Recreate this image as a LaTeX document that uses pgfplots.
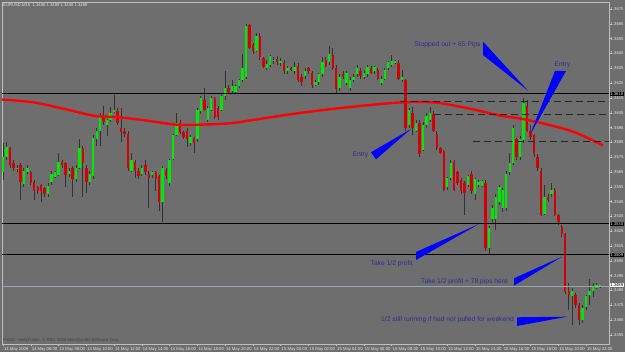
\documentclass[border=0pt]{standalone}
\usepackage{pgfplots}
\pgfplotsset{compat=1.18}
\usepackage{pgfplotstable}
\usepackage{fontspec}
\setmainfont{Liberation Sans}
\definecolor{bg}{RGB}{110,110,110}
\definecolor{framecol}{RGB}{190,190,190}
\definecolor{bullc}{RGB}{0,232,0}
\definecolor{bearc}{RGB}{210,0,0}
\definecolor{wick}{RGB}{50,50,50}
\definecolor{note}{RGB}{45,45,150}
\definecolor{lbl}{RGB}{228,228,228}
\definecolor{bidline}{RGB}{150,165,180}
\newcommand{\tinyf}{\fontsize{4.2}{5}\selectfont}
\newcommand{\notef}{\fontsize{6.7}{8}\selectfont}
\pgfplotsset{candle/.style={only marks, mark=*, mark size=0pt, mark options={draw=none, fill=none}}}

\pgfplotstableread{
i o h l c
0 1.3565 1.3585 1.3560 1.3575
1 1.3575 1.3585 1.3573 1.3582
4 1.3567 1.3570 1.3565 1.3568
6 1.3557 1.3568 1.3555 1.3566
7 1.3565 1.3570 1.3564 1.3568
13 1.3550 1.3558 1.3548 1.3556
14 1.3558 1.3566 1.3556 1.3564
15 1.3562 1.3566 1.3561 1.3565
16 1.3563 1.3578 1.3562 1.3572
19 1.3564 1.3568 1.3562 1.3566
21 1.3560 1.3570 1.3558 1.3568
22 1.3568 1.3587 1.3567 1.3581
25 1.3558 1.3566 1.3556 1.3564
26 1.3562 1.3590 1.3560 1.3588
27 1.3587 1.3595 1.3583 1.3593
28 1.3593 1.3605 1.3583 1.3603
30 1.3597 1.3601 1.3589 1.3600
31 1.3600 1.3609 1.3599 1.3605
32 1.3606 1.3617 1.3605 1.3607
37 1.3566 1.3578 1.3565 1.3573
40 1.3564 1.3570 1.3562 1.3568
43 1.3563 1.3566 1.3561 1.3565
46 1.3545 1.3569 1.3531 1.3568
48 1.3558 1.3574 1.3556 1.3573
49 1.3574 1.3591 1.3573 1.3590
50 1.3590 1.3605 1.3589 1.3598
54 1.3585 1.3590 1.3583 1.3589
56 1.3587 1.3608 1.3585 1.3607
57 1.3606 1.3616 1.3604 1.3615
59 1.3600 1.3610 1.3599 1.3608
60 1.3607 1.3616 1.3606 1.3615
63 1.3607 1.3617 1.3606 1.3616
64 1.3616 1.3633 1.3614 1.3622
66 1.3620 1.3627 1.3618 1.3623
67 1.3619 1.3624 1.3618 1.3623
68 1.3623 1.3628 1.3622 1.3627
69 1.3627 1.3645 1.3626 1.3635
70 1.3629 1.3665 1.3628 1.3664
73 1.3647 1.3659 1.3646 1.3657
76 1.3635 1.3641 1.3634 1.3638
77 1.3637 1.3644 1.3636 1.3643
78 1.3640 1.3643 1.3638 1.3641
80 1.3639 1.3642 1.3637 1.3640
82 1.3633 1.3637 1.3631 1.3635
84 1.3633 1.3639 1.3631 1.3636
87 1.3630 1.3635 1.3628 1.3633
90 1.3624 1.3627 1.3623 1.3626
91 1.3626 1.3632 1.3624 1.3631
92 1.3631 1.3643 1.3629 1.3639
94 1.3639 1.3650 1.3637 1.3645
97 1.3622 1.3631 1.3620 1.3629
99 1.3625 1.3633 1.3624 1.3632
100 1.3622 1.3629 1.3620 1.3627
101 1.3627 1.3631 1.3626 1.3629
102 1.3631 1.3637 1.3629 1.3635
104 1.3629 1.3633 1.3628 1.3632
105 1.3631 1.3637 1.3629 1.3636
107 1.3633 1.3637 1.3631 1.3636
109 1.3625 1.3630 1.3624 1.3628
110 1.3628 1.3635 1.3627 1.3634
111 1.3635 1.3640 1.3634 1.3639
112 1.3637 1.3644 1.3636 1.3640
113 1.3639 1.3641 1.3638 1.3640
115 1.3627 1.3634 1.3626 1.3629
117 1.3597 1.3608 1.3595 1.3607
119 1.3593 1.3600 1.3592 1.3598
121 1.3580 1.3599 1.3579 1.3597
122 1.3597 1.3605 1.3595 1.3603
123 1.3600 1.3609 1.3599 1.3605
128 1.3555 1.3562 1.3553 1.3561
129 1.3561 1.3573 1.3560 1.3571
134 1.3556 1.3563 1.3555 1.3562
136 1.3550 1.3561 1.3546 1.3560
137 1.3556 1.3560 1.3555 1.3558
138 1.3556 1.3560 1.3555 1.3559
140 1.3514 1.3529 1.3510 1.3527
141 1.3533 1.3543 1.3531 1.3541
142 1.3533 1.3550 1.3526 1.3548
143 1.3545 1.3556 1.3543 1.3555
144 1.3541 1.3554 1.3538 1.3553
145 1.3541 1.3566 1.3539 1.3564
146 1.3565 1.3578 1.3563 1.3571
147 1.3571 1.3597 1.3570 1.3595
149 1.3575 1.3589 1.3573 1.3587
150 1.3587 1.3615 1.3585 1.3612
156 1.3537 1.3556 1.3536 1.3548
158 1.3550 1.3558 1.3548 1.3553
164 1.3481 1.3487 1.3462 1.3485
167 1.3465 1.3475 1.3463 1.3473
168 1.3474 1.3482 1.3472 1.3481
169 1.3482 1.3493 1.3475 1.3485
170 1.3485 1.3490 1.3481 1.3488
171 1.3487 1.3490 1.3486 1.3489
172 1.3488 1.3489 1.3487 1.3489
}\bulltab

\pgfplotstableread{
i o h l c
2 1.3581 1.3582 1.3568 1.3570
3 1.3571 1.3573 1.3566 1.3568
5 1.3570 1.3571 1.3546 1.3558
8 1.3565 1.3566 1.3556 1.3558
9 1.3558 1.3560 1.3546 1.3552
10 1.3555 1.3556 1.3550 1.3552
11 1.3556 1.3557 1.3545 1.3552
12 1.3554 1.3555 1.3548 1.3550
17 1.3572 1.3573 1.3568 1.3570
18 1.3571 1.3572 1.3555 1.3563
20 1.3568 1.3569 1.3548 1.3560
23 1.3581 1.3583 1.3548 1.3571
24 1.3568 1.3570 1.3551 1.3558
29 1.3603 1.3610 1.3597 1.3599
33 1.3606 1.3608 1.3597 1.3598
34 1.3595 1.3608 1.3585 1.3592
35 1.3593 1.3595 1.3589 1.3591
36 1.3591 1.3593 1.3566 1.3568
38 1.3572 1.3573 1.3561 1.3566
39 1.3566 1.3568 1.3560 1.3562
41 1.3570 1.3573 1.3563 1.3565
42 1.3564 1.3566 1.3541 1.3561
44 1.3565 1.3566 1.3552 1.3560
45 1.3562 1.3563 1.3539 1.3545
47 1.3566 1.3568 1.3560 1.3562
51 1.3598 1.3600 1.3591 1.3592
52 1.3592 1.3593 1.3587 1.3589
53 1.3593 1.3595 1.3582 1.3587
55 1.3588 1.3589 1.3578 1.3585
58 1.3614 1.3622 1.3606 1.3607
61 1.3615 1.3616 1.3601 1.3602
62 1.3608 1.3610 1.3600 1.3602
65 1.3622 1.3624 1.3618 1.3619
71 1.3664 1.3665 1.3648 1.3649
72 1.3651 1.3652 1.3645 1.3647
74 1.3657 1.3659 1.3641 1.3643
75 1.3642 1.3643 1.3635 1.3636
79 1.3641 1.3643 1.3637 1.3639
81 1.3639 1.3641 1.3631 1.3633
83 1.3635 1.3636 1.3633 1.3634
85 1.3637 1.3639 1.3626 1.3627
86 1.3629 1.3631 1.3623 1.3626
88 1.3635 1.3636 1.3631 1.3633
89 1.3632 1.3633 1.3622 1.3624
93 1.3641 1.3643 1.3636 1.3637
95 1.3644 1.3649 1.3634 1.3635
96 1.3635 1.3637 1.3618 1.3621
98 1.3631 1.3633 1.3628 1.3629
103 1.3633 1.3635 1.3628 1.3630
106 1.3635 1.3637 1.3631 1.3632
108 1.3634 1.3635 1.3627 1.3628
114 1.3639 1.3641 1.3627 1.3628
116 1.3627 1.3628 1.3593 1.3595
118 1.3605 1.3609 1.3590 1.3595
120 1.3598 1.3600 1.3575 1.3577
124 1.3604 1.3606 1.3592 1.3593
125 1.3591 1.3593 1.3580 1.3581
126 1.3581 1.3582 1.3577 1.3578
127 1.3579 1.3580 1.3552 1.3553
130 1.3572 1.3573 1.3552 1.3553
131 1.3565 1.3566 1.3556 1.3558
132 1.3560 1.3561 1.3550 1.3552
133 1.3558 1.3559 1.3536 1.3551
135 1.3564 1.3566 1.3550 1.3552
139 1.3558 1.3560 1.3512 1.3514
148 1.3587 1.3588 1.3573 1.3575
151 1.3610 1.3614 1.3592 1.3593
152 1.3593 1.3597 1.3587 1.3589
153 1.3590 1.3591 1.3575 1.3577
154 1.3575 1.3577 1.3566 1.3568
155 1.3566 1.3568 1.3535 1.3536
157 1.3548 1.3550 1.3545 1.3546
159 1.3553 1.3554 1.3535 1.3536
160 1.3536 1.3537 1.3529 1.3531
161 1.3528 1.3529 1.3521 1.3523
162 1.3523 1.3524 1.3483 1.3484
163 1.3485 1.3490 1.3472 1.3482
165 1.3482 1.3483 1.3473 1.3475
166 1.3475 1.3477 1.3462 1.3465
}\beartab

\begin{document}
\begin{tikzpicture}
\fill[bg] (0pt,0pt) rectangle (625pt,352pt);
\begin{axis}[
  at={(2pt,8pt)}, anchor=south west,
  scale only axis, width=607pt, height=342pt,
  xmin=-0.3, xmax=174.6, ymin=1.34489, ymax=1.36798,
  axis line style={draw=framecol, line width=0.8pt},
  xtick={0,8,16,24,32,40,48,56,64,72,80,88,96,104,112,120,128,136,144,152,160,168},
  xticklabels={14 May 2009, 14 May 06:00, 14 May 08:00, 14 May 10:00, 14 May 12:00, 14 May 14:00, 14 May 16:00, 14 May 18:00, 14 May 20:00, 14 May 22:00, 15 May 00:00, 15 May 02:00, 15 May 04:00, 15 May 06:00, 15 May 08:00, 15 May 10:00, 15 May 12:00, 15 May 14:00, 15 May 16:00, 15 May 18:00, 15 May 20:00, 15 May 22:00},
  ytick={1.3455,1.3465,1.3475,1.3485,1.3495,1.3505,1.3515,1.3525,1.3535,1.3545,1.3555,1.3565,1.3575,1.3585,1.3595,1.3605,1.3615,1.3625,1.3635,1.3645,1.3655,1.3665,1.3675},
  yticklabels={1.3455,1.3465,1.3475,1.3485,1.3495,1.3505,1.3515,1.3525,1.3535,1.3545,1.3555,1.3565,1.3575,1.3585,1.3595,1.3605,1.3615,1.3625,1.3635,1.3645,1.3655,1.3665,1.3675},
  xtick pos=left, ytick pos=right, yticklabel pos=right,
  tick align=outside, major tick length=2.5pt,
  tick style={draw=framecol, line width=0.5pt},
  xticklabel style={font=\tinyf, text=lbl, anchor=north west, inner sep=0pt, xshift=0.8pt, yshift=-1.2pt},
  yticklabel style={font=\tinyf, text=lbl, anchor=west, inner sep=0pt, xshift=-1pt},
]
% wicks
\addplot[candle, error bars/.cd, y dir=both, y explicit, error mark=none,
  error bar style={draw=wick, solid, line width=0.8pt}]
  table[x=i, y expr={(\thisrow{h}+\thisrow{l})/2}, y error expr={(\thisrow{h}-\thisrow{l})/2}] {\bulltab};
\addplot[candle, error bars/.cd, y dir=both, y explicit, error mark=none,
  error bar style={draw=wick, solid, line width=0.8pt}]
  table[x=i, y expr={(\thisrow{h}+\thisrow{l})/2}, y error expr={(\thisrow{h}-\thisrow{l})/2}] {\beartab};
% bodies
\addplot[candle, error bars/.cd, y dir=both, y explicit, error mark=none,
  error bar style={draw=bullc, solid, line width=2.4pt}]
  table[x=i, y expr={(\thisrow{o}+\thisrow{c})/2}, y error expr={(\thisrow{c}-\thisrow{o})/2}] {\bulltab};
\addplot[candle, error bars/.cd, y dir=both, y explicit, error mark=none,
  error bar style={draw=bearc, solid, line width=2.4pt}]
  table[x=i, y expr={(\thisrow{o}+\thisrow{c})/2}, y error expr={(\thisrow{o}-\thisrow{c})/2}] {\beartab};
% moving average
\addplot[red, line width=2.4pt, smooth, mark=none] coordinates {
(-0.58,1.3614) (8.93,1.3612) (18.73,1.3607) (26.22,1.3603) (33.14,1.3602) (40.63,1.3600)
(49.86,1.3597) (57.06,1.3597) (65.71,1.3598) (74.35,1.3601) (85.88,1.3605) (100.29,1.3609)
(114.7,1.3612) (124.21,1.3612) (134.01,1.3608) (143.52,1.3603) (149.28,1.3601) (157.06,1.3597)
(164.55,1.3592) (172.91,1.3583)};
% horizontal lines
\addplot[black, line width=1pt, mark=none] coordinates {(-1,1.3618) (176,1.3618)};
\addplot[black, line width=1pt, mark=none] coordinates {(-1,1.3530) (176,1.3530)};
\addplot[black, line width=1pt, mark=none] coordinates {(-1,1.3509) (176,1.3509)};
\addplot[bidline, line width=0.6pt, mark=none] coordinates {(-1,1.3488) (176,1.3488)};
\addplot[black!85, line width=0.8pt, dash pattern=on 7pt off 4pt, mark=none] coordinates {(114.5,1.3613) (176,1.3613)};
\addplot[black!85, line width=0.8pt, dash pattern=on 7pt off 4pt, mark=none] coordinates {(124.2,1.3604) (176,1.3604)};
\addplot[black!85, line width=0.8pt, dash pattern=on 7pt off 4pt, mark=none] coordinates {(135.4,1.3586) (176,1.3586)};
\end{axis}
% price highlights on the right scale
\node[fill=black, text=lbl, font=\tinyf, inner sep=0.6pt, anchor=west] at (609.5pt,258pt) {1.3618};
\node[fill=black, text=lbl, font=\tinyf, inner sep=0.6pt, anchor=west] at (609.5pt,128pt) {1.3530};
\node[fill=black, text=lbl, font=\tinyf, inner sep=0.6pt, anchor=west] at (609.5pt,97pt) {1.3509};
\node[fill=white, text=black, font=\tinyf, inner sep=0.6pt, anchor=west] at (609.5pt,67pt) {1.3489};
% header and footer text
\node[anchor=west, font=\tinyf, text=lbl, inner sep=0pt] at (3pt,347pt) {EURUSD,M15\ \ 1.3488 1.3489 1.3488 1.3489};
\node[anchor=west, font=\tinyf, text=black!75, inner sep=0pt] at (3pt,12pt) {FXDD - MetaTrader, © 2001-2008 MetaQuotes Software Corp.};
% blue wedges
\fill[blue] (483pt,310.3pt) -- (483pt,297pt) -- (528pt,261.3pt) -- cycle;
\fill[blue] (555pt,281pt) -- (566pt,281pt) -- (530pt,217pt) -- cycle;
\fill[blue] (371pt,199.7pt) -- (376pt,192.7pt) -- (411pt,223pt) -- cycle;
\fill[blue] (416pt,100pt) -- (416pt,92pt) -- (479pt,128pt) -- cycle;
\fill[blue] (514pt,73.7pt) -- (514pt,66.3pt) -- (562pt,95.3pt) -- cycle;
\fill[blue] (517pt,34.7pt) -- (517pt,26pt) -- (567pt,35.3pt) -- cycle;
% annotations
\node[font=\notef, text=note, inner sep=0pt] at (447.5pt,307pt) {Stopped out + 65 Pips};
\node[font=\notef, text=note, inner sep=0pt] at (562.5pt,287pt) {Entry};
\node[font=\notef, text=note, inner sep=0pt] at (360.5pt,197pt) {Entry};
\node[font=\notef, text=note, inner sep=0pt, anchor=east] at (413pt,88pt) {Take 1/2 profit};
\node[font=\notef, text=note, inner sep=0pt, anchor=west] at (421pt,70.5pt) {Take 1/2 profit + 78 pips here};
\node[font=\notef, text=note, inner sep=0pt, anchor=west] at (381pt,32pt) {1/2 still running if had not pulled for weekend};
\pgfresetboundingbox
\useasboundingbox (0pt,0pt) rectangle (625pt,352pt);
\end{tikzpicture}
\end{document}
